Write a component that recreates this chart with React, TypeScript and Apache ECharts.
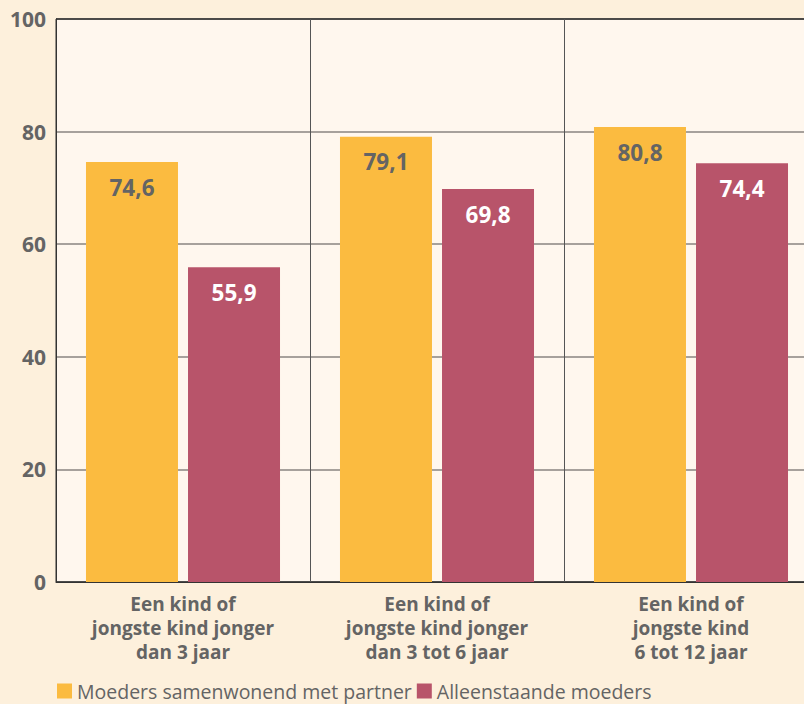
import React, { useEffect, useRef } from "react";
import * as echarts from "echarts";

const categories = [
  "Een kind of\njongste kind jonger\ndan 3 jaar",
  "Een kind of\njongste kind jonger\ndan 3 tot 6 jaar",
  "Een kind of\njongste kind\n6 tot 12 jaar",
];
const seriesNames = ["Moeders samenwonend met partner", "Alleenstaande moeders"];
const partnerValues = [74.6, 79.1, 80.8];
const singleValues = [55.9, 69.8, 74.4];

const FONT = "'Open Sans', 'Noto Sans', sans-serif";
const GRAY = "#646464";

export default function App() {
  const ref = useRef<HTMLDivElement>(null);
  useEffect(() => {
    if (!ref.current) return;
    const chart = echarts.init(ref.current, null, { renderer: "svg" });
    const fmt = (p: any) => String(p.value).replace(".", ",");
    chart.setOption({
      animation: false,
      backgroundColor: "#fdf0dc",
      textStyle: { fontFamily: FONT },
      grid: {
        left: 56,
        top: 19,
        right: 0,
        bottom: 122,
        show: true,
        backgroundColor: "#fff7ee",
        borderColor: "#333",
        borderWidth: 1,
      },
      legend: {
        left: 57,
        top: 681,
        padding: 0,
        itemWidth: 15,
        itemHeight: 15,
        itemGap: 5,
        icon: "rect",
        textStyle: { fontSize: 19.5, color: GRAY, fontFamily: FONT },
        data: seriesNames,
      },
      xAxis: {
        type: "category",
        data: categories,
        axisLine: { show: true, lineStyle: { color: "#333", width: 1 } },
        axisTick: { show: false },
        splitLine: { show: true, interval: 0, lineStyle: { color: "#555", width: 1 } },
        axisLabel: {
          interval: 0,
          fontSize: 19,
          fontWeight: "bold",
          color: GRAY,
          lineHeight: 24,
          margin: 10,
          fontFamily: FONT,
        },
      },
      yAxis: {
        type: "value",
        min: 0,
        max: 100,
        interval: 20,
        axisLine: { show: true, lineStyle: { color: "#333", width: 1 } },
        axisTick: { show: false },
        splitLine: {
          show: true,
          lineStyle: {
            color: ["#333", "#8a8580", "#8a8580", "#8a8580", "#8a8580", "#333"],
            width: 1.5,
          },
        },
        axisLabel: {
          fontSize: 21,
          fontWeight: "bold",
          color: GRAY,
          margin: 10,
          fontFamily: FONT,
        },
      },
      series: [
        {
          name: seriesNames[0],
          type: "bar",
          data: partnerValues,
          barWidth: 92,
          barGap: "10.9%",
          itemStyle: { color: "#fbbb40" },
          label: {
            show: true,
            position: "insideTop",
            distance: 13,
            formatter: fmt,
            fontSize: 22.5,
            lineHeight: 24,
            fontWeight: "bold",
            color: GRAY,
            fontFamily: FONT,
          },
        },
        {
          name: seriesNames[1],
          type: "bar",
          data: singleValues,
          barWidth: 92,
          itemStyle: { color: "#b8546a" },
          label: {
            show: true,
            position: "insideTop",
            distance: 13,
            formatter: fmt,
            fontSize: 22.5,
            lineHeight: 24,
            fontWeight: "bold",
            color: "#ffffff",
            fontFamily: FONT,
          },
        },
      ],
    });
    return () => chart.dispose();
  }, []);
  return (
    <div
      style={{
        position: "fixed",
        left: 0,
        top: 0,
        width: 804,
        height: 704,
        overflow: "hidden",
        background: "#fdf0dc",
      }}
    >
      <div ref={ref} style={{ width: 818, height: 704 }} />
    </div>
  );
}
